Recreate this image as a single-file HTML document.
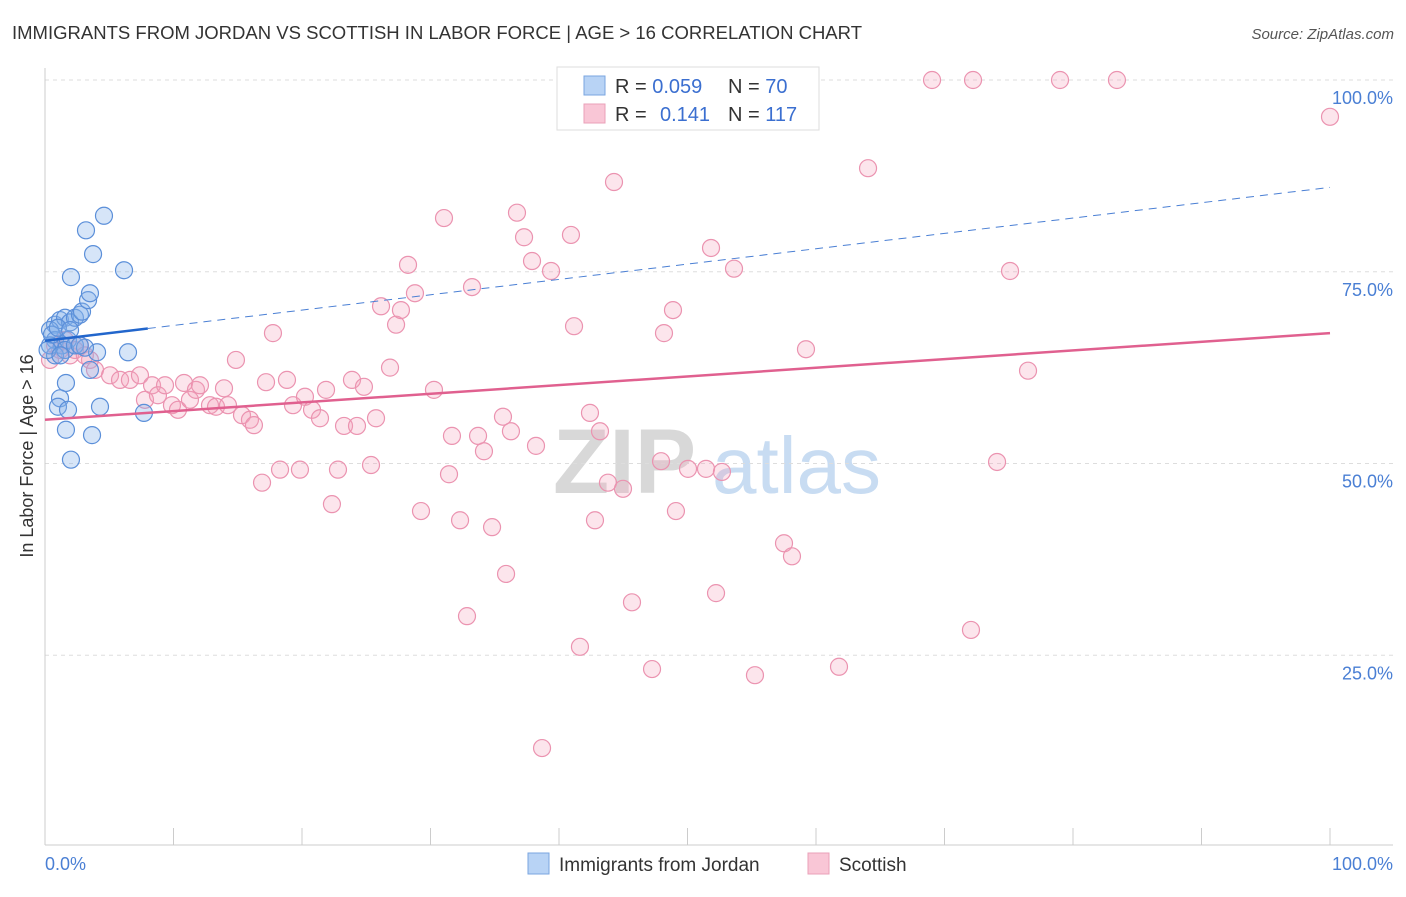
<!DOCTYPE html>
<html><head><meta charset="utf-8"><style>
body{margin:0;background:#fff;font-family:"Liberation Sans",sans-serif}
svg text{font-family:"Liberation Sans",sans-serif}
</style></head><body>
<svg id="chart" width="1406" height="892" xmlns="http://www.w3.org/2000/svg">
<text x="12" y="39" font-size="18" fill="#333" textLength="850" lengthAdjust="spacingAndGlyphs">IMMIGRANTS FROM JORDAN VS SCOTTISH IN LABOR FORCE | AGE &gt; 16 CORRELATION CHART</text>
<text x="1394" y="39" font-size="15" fill="#555" text-anchor="end" font-style="italic">Source: ZipAtlas.com</text>
<text transform="translate(33,456) rotate(-90)" font-size="18" fill="#333" text-anchor="middle">In Labor Force | Age &gt; 16</text>
<g>
<text x="553" y="493" font-size="92" fill="#d8d8d8" font-family="Liberation Serif" font-weight="bold">ZIP</text>
<text x="712" y="493" font-size="80" fill="#c8dcf2">atlas</text>
</g>
<g id="grid"></g><g id="axes"></g><g id="pts"></g><g id="trends"></g>
<g>
<rect x="557" y="67" width="262" height="63" fill="#fff" stroke="#ddd"/>
<rect x="584" y="76" width="21" height="19" fill="#b8d3f5" stroke="#7aa6e0"/>
<rect x="584" y="104" width="21" height="19" fill="#f9c6d6" stroke="#eaa0b8"/>
<text x="615" y="93" font-size="20" fill="#333">R = <tspan fill="#3b6fd0">0.059</tspan></text>
<text x="728" y="93" font-size="20" fill="#333">N = <tspan fill="#3b6fd0">70</tspan></text>
<text x="615" y="121" font-size="20" fill="#333">R =</text>
<text x="660" y="121" font-size="20" fill="#3b6fd0">0.141</text>
<text x="728" y="121" font-size="20" fill="#333">N = <tspan fill="#3b6fd0">117</tspan></text>
</g>
<g>
<rect x="528" y="853" width="21" height="21" fill="#b8d3f5" stroke="#7aa6e0"/>
<text x="559" y="871" font-size="19" fill="#333">Immigrants from Jordan</text>
<rect x="808" y="853" width="21" height="21" fill="#f9c6d6" stroke="#eaa0b8"/>
<text x="839" y="871" font-size="19" fill="#333">Scottish</text>
</g>
</svg>
<script>
const yTicks=[25,50,75,100];
const yTickLabels=["25.0%","50.0%","75.0%","100.0%"];
const xTickLabels=["0.0%","100.0%"];
const blueX=[0.78,1.17,1.56,1.95,2.33,0.39,0.78,1.32,1.79,2.72,2.88,3.35,3.5,3.19,4.59,3.74,2.02,6.15,6.46,4.05,4.28,1.63,1.17,1.01,1.79,1.63,2.02,3.66,7.7,3.5,0.78,1.56,2.33,3.11,0.39,0.54,1.0,1.95,0.2,1.2,2.7];
const blueY=[68.1,68.7,69.0,68.4,69.0,67.4,66.1,65.4,66.1,69.4,69.8,71.3,72.2,80.4,82.3,77.3,74.3,75.2,64.5,64.5,57.4,60.5,58.5,57.4,57.0,54.4,50.5,53.7,56.6,62.2,64.1,64.8,65.4,65.1,65.4,66.8,67.7,67.4,64.8,64.1,65.4];
const pinkX=[0.39,1.17,1.95,2.72,3.5,3.89,5.06,5.84,6.61,7.39,7.78,8.33,8.79,9.34,9.88,10.35,10.82,11.28,11.75,12.06,12.84,13.31,13.93,14.24,14.86,15.33,15.95,16.26,17.2,17.74,16.89,18.29,18.83,19.3,19.84,20.23,20.78,21.4,21.87,22.33,22.8,23.27,23.89,24.28,24.82,25.37,25.76,26.15,26.85,27.32,27.7,28.25,28.79,29.26,30.27,31.05,31.44,31.67,32.3,32.84,33.23,33.7,34.16,34.79,35.64,35.88,36.26,36.73,37.28,37.9,38.21,38.68,39.38,40.93,41.17,41.63,42.41,42.8,43.19,43.81,44.28,44.98,45.68,47.24,47.94,48.17,48.87,49.1,50.04,51.44,51.83,52.22,52.68,53.62,55.25,57.51,58.13,59.22,61.79,64.05,69.03,72.22,72.06,74.09,75.1,76.5,78.99,83.42,100,58.9,45.3,0.78,1.56,2.33,3.1];
const pinkY=[63.5,64.8,64.1,65.4,63.5,62.2,61.5,60.9,60.9,61.5,58.3,60.2,58.9,60.2,57.6,57.0,60.5,58.3,59.6,60.2,57.6,57.4,59.8,57.6,63.5,56.3,55.7,55.0,60.6,67.0,47.5,49.2,60.9,57.6,49.2,58.7,57.0,55.9,59.6,44.7,49.2,54.9,60.9,54.9,60.0,49.8,55.9,70.5,62.5,68.1,70.0,75.9,72.2,43.8,59.6,82.0,48.6,53.6,42.6,30.1,73.0,53.6,51.6,41.7,56.1,35.6,54.2,82.7,79.5,76.4,52.3,12.9,75.1,79.8,67.9,26.1,56.6,42.6,54.2,47.5,86.7,46.7,31.9,23.2,50.3,67.0,70.0,43.8,49.3,49.3,78.1,33.1,48.9,75.4,22.4,39.6,37.9,64.9,23.5,88.5,100,100,28.3,50.2,75.1,62.1,100,100,95.2,100,100,65.4,66.1,64.8,64.1];
const blueTrend=[66.0,86.0];
const blueSolidEnd=8;
const pinkTrend=[55.7,67.0];
const NS="http://www.w3.org/2000/svg";
const X=v=>45+v*12.85, Y=v=>847-v*7.67;
function mk(t,a,p){const e=document.createElementNS(NS,t);for(const k in a)e.setAttribute(k,a[k]);p.appendChild(e);return e;}
const grid=document.getElementById('grid'),axes=document.getElementById('axes');
yTicks.forEach((t,i)=>{
 const l=mk('line',{x1:45,x2:1393,y1:Y(t),y2:Y(t),stroke:'#ddd','stroke-dasharray':'4,4'},grid);
 
 
 const tx=mk('text',{x:1393,y:Y(t)+24,'font-size':18,fill:'#4a7fd4','text-anchor':'end'},axes);
 tx.textContent=yTickLabels[i];
 
 
});
let a=mk('line',{x1:45,x2:45,y1:68,y2:845,stroke:'#ccc'},axes);


a=mk('line',{x1:45,x2:1393,y1:845,y2:845,stroke:'#ccc'},axes);


for(let i=0;i<=10;i++){const t=mk('line',{x1:X(i*10),x2:X(i*10),y1:828,y2:845,stroke:'#ccc'},axes);
 
 }
let xl=mk('text',{x:45,y:870,'font-size':18,fill:'#4a7fd4'},axes);xl.textContent=xTickLabels[0];


xl=mk('text',{x:1393,y:870,'font-size':18,fill:'#4a7fd4','text-anchor':'end'},axes);xl.textContent=xTickLabels[1];


const pts=document.getElementById('pts');
pinkX.forEach((x,i)=>{const c=mk('circle',{cx:X(x),cy:Y(pinkY[i]),r:8.5,fill:'rgba(244,160,188,0.28)',stroke:'#eb93b0','stroke-width':1.2},pts);
 
 });
blueX.forEach((x,i)=>{const c=mk('circle',{cx:X(x),cy:Y(blueY[i]),r:8.5,fill:'rgba(130,175,235,0.33)',stroke:'#5b8fd9','stroke-width':1.2},pts);
 
 });
const tr=document.getElementById('trends');
const bAt=x=>blueTrend[0]+(blueTrend[1]-blueTrend[0])*x/100;
let l=mk('line',{x1:X(0),y1:Y(bAt(0)),x2:X(blueSolidEnd),y2:Y(bAt(blueSolidEnd)),stroke:'#2266cc','stroke-width':2.5},tr);


l=mk('line',{x1:X(blueSolidEnd),y1:Y(bAt(blueSolidEnd)),x2:X(100),y2:Y(bAt(100)),stroke:'#4a7fd4','stroke-width':1,'stroke-dasharray':'8,6'},tr);


l=mk('line',{x1:X(0),y1:Y(pinkTrend[0]),x2:X(100),y2:Y(pinkTrend[1]),stroke:'#e0608f','stroke-width':2.5},tr);


</script>
</body></html>
